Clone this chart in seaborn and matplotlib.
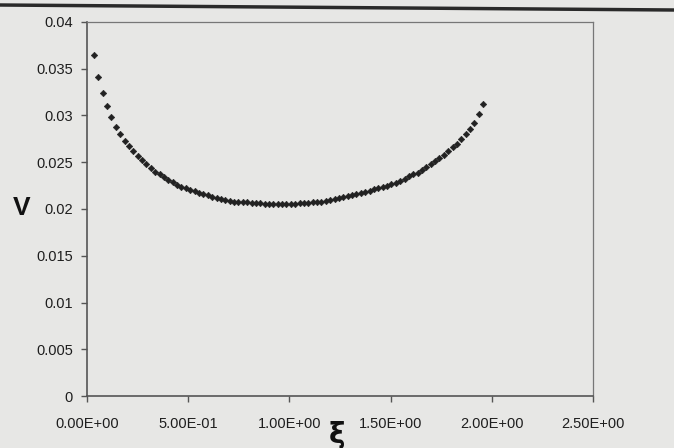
import numpy as np
import pandas as pd
import matplotlib
matplotlib.use("Agg")
import matplotlib.pyplot as plt
from matplotlib.lines import Line2D
from matplotlib.ticker import FuncFormatter
import seaborn as sns

# values
xi = [0.035, 0.057, 0.078, 0.100, 0.121, 0.143, 0.165, 0.186, 0.208, 0.229,
      0.251, 0.273, 0.294, 0.316, 0.337, 0.359, 0.381, 0.402, 0.424, 0.445,
      0.467, 0.489, 0.510, 0.532, 0.553, 0.575, 0.597, 0.618, 0.640, 0.661,
      0.683, 0.705, 0.726, 0.748, 0.769, 0.791, 0.813, 0.834, 0.856, 0.877,
      0.899, 0.921, 0.942, 0.964, 0.985, 1.007, 1.029, 1.050, 1.072, 1.093,
      1.115, 1.137, 1.158, 1.180, 1.201, 1.223, 1.245, 1.266, 1.288, 1.309,
      1.331, 1.353, 1.374, 1.396, 1.417, 1.439, 1.461, 1.482, 1.504, 1.525,
      1.547, 1.569, 1.590, 1.612, 1.633, 1.655, 1.677, 1.698, 1.720, 1.741,
      1.763, 1.785, 1.806, 1.828, 1.849, 1.871, 1.893, 1.914, 1.936, 1.957]
v = [0.0365, 0.0341, 0.0324, 0.0310, 0.0298, 0.0288, 0.0280, 0.0273, 0.0267, 0.0262,
     0.0257, 0.0252, 0.0248, 0.0244, 0.0240, 0.0237, 0.0234, 0.0231, 0.0229, 0.0226,
     0.0224, 0.0222, 0.0220, 0.0219, 0.0217, 0.0216, 0.0215, 0.0213, 0.0212, 0.0211,
     0.0210, 0.0209, 0.0208, 0.0208, 0.0207, 0.0207, 0.0206, 0.0206, 0.0206, 0.0205,
     0.0205, 0.0205, 0.0205, 0.0205, 0.0205, 0.0205, 0.0205, 0.0206, 0.0206, 0.0206,
     0.0207, 0.0207, 0.0208, 0.0209, 0.0210, 0.0211, 0.0212, 0.0213, 0.0214, 0.0215,
     0.0216, 0.0217, 0.0218, 0.0219, 0.0221, 0.0222, 0.0224, 0.0225, 0.0227, 0.0228,
     0.0230, 0.0232, 0.0235, 0.0237, 0.0239, 0.0242, 0.0245, 0.0248, 0.0251, 0.0254,
     0.0258, 0.0262, 0.0266, 0.0270, 0.0275, 0.0280, 0.0286, 0.0292, 0.0302, 0.0312]

x_ticks = [0.0, 0.5, 1.0, 1.5, 2.0, 2.5]
y_ticks = [0.0, 0.005, 0.01, 0.015, 0.02, 0.025, 0.03, 0.035, 0.04]

df = pd.DataFrame({"xi": xi, "v": v})

sns.set_theme(style="white")
plt.rcParams["font.family"] = ["Liberation Sans", "DejaVu Sans"]

bg = "#e7e7e5"
fig = plt.figure(figsize=(6.74, 4.48), dpi=100, facecolor=bg)
ax = fig.add_axes([0.129, 0.116, 0.751, 0.835], facecolor=bg)

sns.scatterplot(data=df, x="xi", y="v", ax=ax, marker="D", s=11,
                color="#222222", edgecolor="#222222", linewidth=0.4)

ax.set_xlim(0, 2.5)
ax.set_ylim(0, 0.04)
ax.set_xticks(x_ticks)
ax.set_yticks(y_ticks)
ax.xaxis.set_major_formatter(FuncFormatter(lambda val, pos: f"{val:.2E}"))
ax.yaxis.set_major_formatter(FuncFormatter(lambda val, pos: f"{val:g}"))
ax.tick_params(axis="both", direction="out", length=4, width=1, color="#555555",
               labelsize=10.5, labelcolor="#1e1e1e", pad=6, bottom=True, left=True)
ax.tick_params(axis="x", pad=11)
for side in ["left", "bottom"]:
    ax.spines[side].set_color("#555555")
    ax.spines[side].set_linewidth(1.2)
for side in ["top", "right"]:
    ax.spines[side].set_color("#777777")
    ax.spines[side].set_linewidth(0.9)
ax.set_xlabel("")
ax.set_ylabel("")

# axis titles as placed in the scan
fig.text(0.032, 0.535, "V", fontsize=19, fontweight="bold", color="#111111",
         ha="center", va="center")
fig.text(0.500, 0.030, "ξ", fontsize=20, fontweight="bold", color="#111111",
         ha="center", va="center", family=["DejaVu Sans"])

# dark edge line at the top of the scanned page
fig.add_artist(Line2D([0.0, 1.0], [1 - 5 / 448, 1 - 10 / 448],
                      transform=fig.transFigure, color="#2a2a2a", lw=2.5))

fig.savefig("out.png", dpi=100, facecolor=bg)
